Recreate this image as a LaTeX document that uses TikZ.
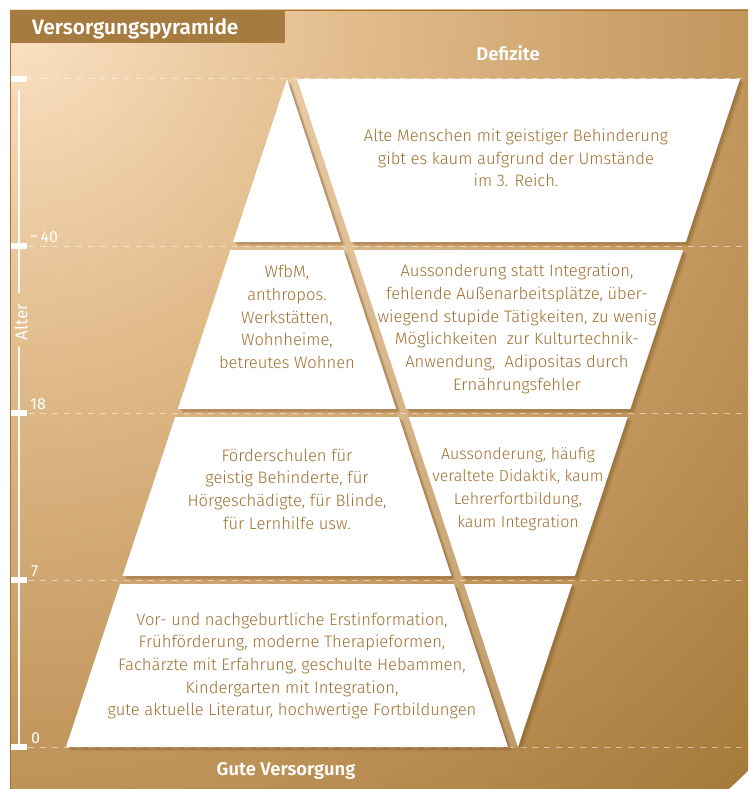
\documentclass[tikz,border=0pt]{standalone}
\usepackage{fontspec}
\IfFontExistsTF{Fira Sans Light}{\setmainfont{Fira Sans Light}[BoldFont={Fira Sans SemiBold}]}{\setmainfont{Fira Sans}}
\newfontfamily\axisfont{Fira Sans}
\usetikzlibrary{calc}
\definecolor{bgA}{HTML}{FCE3C6}
\definecolor{bgM}{HTML}{E2BC8C}
\definecolor{bgN}{HTML}{C3985F}
\definecolor{bgB}{HTML}{A67A3A}
\definecolor{tabc}{HTML}{A67B3F}
\definecolor{framec}{HTML}{A57430}
\definecolor{txtc}{HTML}{A0702F}
\definecolor{shc}{HTML}{7A4E1E}
\pgfdeclareradialshading{bgrad}{\pgfpoint{0bp}{0bp}}{color(0bp)=(bgA); color(8bp)=(bgM); color(17bp)=(bgN); color(25bp)=(bgB); color(50bp)=(bgB)}
\tikzset{
  band/.style={fill=white},
  bandshadow/.style={fill=shc, opacity=0.12},
  btext/.style={text=txtc, align=center, font=\fontsize{16.6}{22.7}\selectfont, inner sep=0pt},
  hdtext/.style={text=white, font=\bfseries\fontsize{18.4}{20}\selectfont, inner sep=0pt},
  axtext/.style={text=white, font=\axisfont\fontsize{16}{18}\selectfont, inner sep=0pt, anchor=base west},
  dashln/.style={white, opacity=0.5, line width=1pt, dash pattern=on 6pt off 6pt},
  tick/.style={fill=white}
}
\begin{document}
\begin{tikzpicture}[x=1pt,y=-1pt]
\useasboundingbox (0,0) rectangle (748,789);
% background
\begin{scope}
  \clip (10,10) rectangle (748,789);
  \shade[shading=bgrad] (10,10) circle (1060);
\end{scope}
\draw[framec, line width=0.8pt] (10,789) -- (10,10) -- (748,10);
% title tab
\fill[tabc] (10,10) rectangle (285,43);
\node[hdtext, anchor=base west, font=\bfseries\fontsize{20.8}{24}\selectfont] (title) at (32,35) {Versorgungspyramide};
\node[hdtext, anchor=base] (defizite) at (508,61) {Defizite};
\node[hdtext, anchor=base] (gute) at (286,775) {Gute Versorgung};
% dashed level lines
\foreach \yy in {79,246,413,580,747} {
  \draw[dashln] (28,\yy) -- (748,\yy);
  \fill[tick] (11,\yy-3) rectangle (27,\yy+3);
}
% axis
\draw[white, line width=1.8pt] (19,90) -- (19,293);
\draw[white, line width=1.8pt] (19,347) -- (19,744);
\node[text=white, font=\axisfont\fontsize{17}{18}\selectfont, rotate=90, inner sep=0pt] (alter) at (21,322) {Alter};
\node[axtext] (a40) at (30,242) {\raisebox{1pt}{\textasciitilde}\,40};
\node[axtext] (a18) at (30,409) {18};
\node[axtext] (a7) at (31,576) {7};
\node[axtext] (a0) at (31,743) {0};
% diagonal stripe highlight
\fill[white, opacity=0.15] (287,79) -- (297,79) -- (518,747) -- (508,747) -- cycle;
% shapes
\def\Ua{(287,79) -- (340.93,242) -- (233.07,242) -- cycle}
\def\Ub{(230.43,250) -- (343.57,250) -- (396.18,409) -- (177.82,409) -- cycle}
\def\Uc{(175.18,417) -- (398.82,417) -- (451.43,576) -- (122.57,576) -- cycle}
\def\Ud{(119.93,584) -- (454.07,584) -- (508,747) -- (66,747) -- cycle}
\def\Ia{(297,79) -- (740,79) -- (685.83,242) -- (350.93,242) -- cycle}
\def\Ib{(353.57,250) -- (683.17,250) -- (630.33,409) -- (406.18,409) -- cycle}
\def\Ic{(408.82,417) -- (627.67,417) -- (574.83,576) -- (461.43,576) -- cycle}
\def\Id{(464.07,584) -- (572.17,584) -- (518,747) -- cycle}
\foreach \s in {1,2,3,4,5} {
  \begin{scope}[shift={(\s*0.9,\s*0.8)}]
    \fill[bandshadow] \Ua; \fill[bandshadow] \Ub; \fill[bandshadow] \Uc; \fill[bandshadow] \Ud;
    \fill[bandshadow] \Ia; \fill[bandshadow] \Ib; \fill[bandshadow] \Ic; \fill[bandshadow] \Id;
  \end{scope}
}
\fill[band] \Ua; \fill[band] \Ub; \fill[band] \Uc; \fill[band] \Ud;
\fill[band] \Ia; \fill[band] \Ib; \fill[band] \Ic; \fill[band] \Id;
% texts
\node[btext] (t1r) at (516,158) {Alte Menschen mit geistiger Behinderung\\gibt es kaum aufgrund der Umstände\\im 3. Reich.};
\node[btext] (t2l) at (287,317) {WfbM,\\anthropos.\\Werkstätten,\\Wohnheime,\\betreutes Wohnen};
\node[btext] (t2r) at (517,329) {Aussonderung statt Integration,\\fehlende Außenarbeitsplätze, über-\\wiegend stupide Tätigkeiten, zu wenig\\Möglichkeiten\ \ zur Kulturtechnik-\\Anwendung,\ \ Adipositas durch\\Ernährungsfehler};
\node[btext] (t3l) at (287,489) {Förderschulen für\\geistig Behinderte, für\\Hörgeschädigte, für Blinde,\\für Lernhilfe usw.};
\node[btext, font=\fontsize{16}{22.7}\selectfont] (t3r) at (518,489) {Aussonderung, häufig\\veraltete Didaktik, kaum\\Lehrerfortbildung,\\kaum Integration};
\node[btext] (t4l) at (292,666) {Vor- und nachgeburtliche Erstinformation,\\Frühförderung, moderne Therapieformen,\\Fachärzte mit Erfahrung, geschulte Hebammen,\\Kindergarten mit Integration,\\gute aktuelle Literatur, hochwertige Fortbildungen};
\end{tikzpicture}
\end{document}
